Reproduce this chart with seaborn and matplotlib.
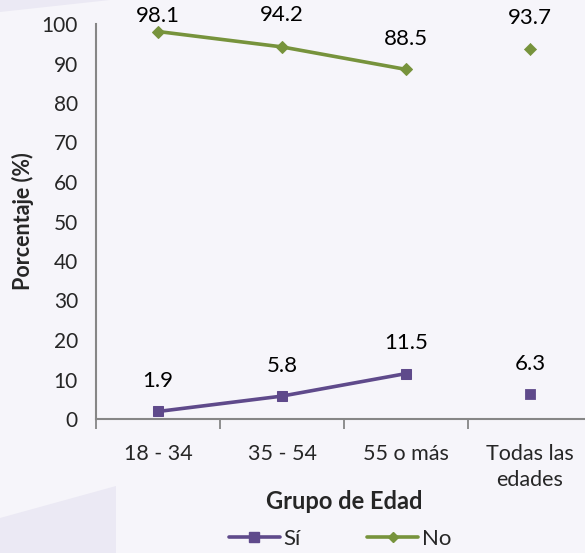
import matplotlib.pyplot as plt
import matplotlib.patches as mpatches
from matplotlib.lines import Line2D
import seaborn as sns
import pandas as pd

# Datos
grupos = ["18 - 34", "35 - 54", "55 o más", "Todas las\nedades"]
si_vals = [1.9, 5.8, 11.5, 6.3]
no_vals = [98.1, 94.2, 88.5, 93.7]
yticks = list(range(0, 101, 10))

PURPLE = "#5f4a8b"
GREEN = "#77933c"
BG = "#f6f5fa"

sns.set_style("white")
plt.rcParams["font.family"] = ["Lato", "DejaVu Sans"]

fig = plt.figure(figsize=(5.85, 5.53), dpi=100, facecolor=BG)
# fondo decorativo
fig.patches.append(mpatches.Polygon([(0, 0), (0, 35 / 553), (116 / 585, 67 / 553), (116 / 585, 0)],
                                    closed=True, transform=fig.transFigure, facecolor="#ebe9f4",
                                    edgecolor="none", zorder=0))
fig.patches.append(mpatches.Polygon([(0, 1), (0, 1 - 12 / 553), (110 / 585, 1)],
                                    closed=True, transform=fig.transFigure, facecolor="#ebe9f4",
                                    edgecolor="none", zorder=0))

ax = fig.add_axes([96 / 585, 1 - 419 / 553, 496 / 585, 395 / 553])
ax.set_facecolor("none")

df = pd.DataFrame({"x": range(len(grupos)), "Sí": si_vals, "No": no_vals})
first = df.iloc[:3]
last = df.iloc[3:]

sns.lineplot(data=first, x="x", y="Sí", color=PURPLE, lw=2.6, marker="s", ms=7,
             markeredgecolor=PURPLE, ax=ax)
sns.lineplot(data=first, x="x", y="No", color=GREEN, lw=2.6, marker="D", ms=6,
             markeredgecolor=GREEN, ax=ax)
sns.scatterplot(data=last, x="x", y="Sí", color=PURPLE, marker="s", s=55, edgecolor=PURPLE, ax=ax)
sns.scatterplot(data=last, x="x", y="No", color=GREEN, marker="D", s=38, edgecolor=GREEN, ax=ax)

no_offsets = [11, 23, 22, 22]
for i in range(len(grupos)):
    ax.annotate(f"{si_vals[i]:.1f}", (i, si_vals[i]), xytext=(0, 22), textcoords="offset points",
                ha="center", va="center", fontsize=16, color="black")
    ax.annotate(f"{no_vals[i]:.1f}", (i, no_vals[i]), xytext=(0, no_offsets[i]),
                textcoords="offset points", ha="center", va="center", fontsize=16, color="black")

ax.set_xlim(-0.5, 3.5)
ax.set_ylim(0, 100)
ax.set_yticks(yticks)
ax.set_xticks(range(len(grupos)))
ax.set_xticklabels(grupos, linespacing=1.4)
ax.set_xticks([-0.5, 0.5, 1.5, 2.5, 3.5], minor=True)
ax.tick_params(axis="x", which="major", length=0, pad=18, labelsize=15.5)
ax.tick_params(axis="x", which="minor", length=7, width=1.3, color="#868686", direction="out")
ax.tick_params(axis="y", length=7, width=1.3, color="#868686", direction="out", labelsize=15, pad=6)
ax.tick_params(axis="x", which="both", bottom=True)

for side in ["top", "right"]:
    ax.spines[side].set_visible(False)
for side in ["left", "bottom"]:
    ax.spines[side].set_color("#868686")
    ax.spines[side].set_linewidth(1.5)

ax.set_xlabel("Grupo de Edad", fontsize=17, fontweight="bold")
ax.set_ylabel("Porcentaje (%)", fontsize=15.5, fontweight="bold")
ax.xaxis.set_label_coords(0.5, -0.18)
ax.yaxis.set_label_coords(-0.125, 0.5)

handles = [Line2D([], [], color=PURPLE, lw=2.6, marker="s", ms=7),
           Line2D([], [], color=GREEN, lw=2.6, marker="D", ms=5)]
fig.legend(handles, ["Sí", "No"], loc="center", bbox_to_anchor=(340 / 585, 1 - 539 / 553),
           ncol=2, frameon=False, fontsize=16, columnspacing=3.0, handlelength=2.3,
           handletextpad=0.15, borderpad=0.1)

plt.savefig("out.png", dpi=100, facecolor=BG)
plt.close()
